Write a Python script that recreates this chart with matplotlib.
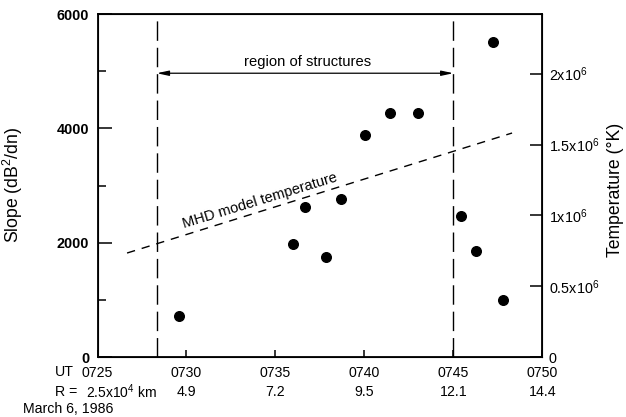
import matplotlib
matplotlib.use('Agg')
import matplotlib.pyplot as plt

plt.rcParams['font.family'] = ['Liberation Sans', 'DejaVu Sans']
plt.rcParams['mathtext.default'] = 'regular'

# Slope measurements, time in minutes after 0700 UT
obs_time = [29.58, 36.0, 36.66, 37.84, 38.69, 40.04, 41.44, 43.0,
            45.43, 46.27, 47.23, 47.79]
obs_slope = [720, 1980, 2627, 1753, 2767, 3885, 4269, 4269,
             2470, 1858, 5511, 1001]

# MHD model temperature, straight line between two ends
mhd_time = [26.66, 48.30]
mhd_temp = [0.735e6, 1.581e6]

# boundaries of the region of structures
region_bounds = [28.33, 45.0]

ut_ticks = [25, 30, 35, 40, 45, 50]
ut_labels = ['0725', '0730', '0735', '0740', '0745', '0750']
range_labels = ['2.5x10$^4$ km', '4.9', '7.2', '9.5', '12.1', '14.4']

slope_ticks = [0, 2000, 4000, 6000]
slope_minor = [1000, 3000, 5000]
temp_ticks = [0, 0.5e6, 1e6, 1.5e6, 2e6]
temp_labels = ['0', '0.5x10$^6$', '1x10$^6$', '1.5x10$^6$', '2x10$^6$']
TEMP_MAX = 2.42e6

fig = plt.figure(figsize=(6.26, 4.17), dpi=100)
ax = fig.add_axes([0.1558, 0.1432, 0.7105, 0.8232])
ax2 = ax.twinx()

ax.set_xlim(25, 50)
ax.set_ylim(0, 6000)
ax2.set_ylim(0, TEMP_MAX)

for sp in ax.spines.values():
    sp.set_linewidth(1.3)

ax.scatter(obs_time, obs_slope, s=48, color='black', zorder=5)
ax2.plot(mhd_time, mhd_temp, color='black', lw=1.0, dashes=(6, 5))

for xb in region_bounds:
    ax.axvline(xb, color='black', lw=1.0, dashes=(14, 5))

ax.annotate('', xy=(region_bounds[0], 4965), xytext=(region_bounds[1], 4965),
            arrowprops=dict(arrowstyle='<|-|>,head_length=0.7,head_width=0.15',
                            color='black', lw=0.9, shrinkA=0, shrinkB=0))
ax.text(36.8, 5161, 'region of structures', ha='center', va='center',
        fontsize=10.6)
ax.text(34.13, 2732, 'MHD model temperature', ha='center', va='center',
        fontsize=10.5, rotation=17)

# left axis
ax.set_yticks(slope_ticks)
ax.set_yticklabels([str(v) for v in slope_ticks], fontweight='bold',
                   fontsize=10.4)
ax.set_yticks(slope_minor, minor=True)
ax.tick_params(axis='y', which='major', direction='in', length=10, width=1.1,
               pad=6)
ax.tick_params(axis='y', which='minor', direction='in', length=5.5, width=1.1)
ax.set_ylabel('Slope (dB$^2$/dn)', fontsize=12.7)
ax.yaxis.set_label_coords(-0.163, 0.502)

# bottom axis: UT row as tick labels, range row as text
ax.set_xticks(ut_ticks)
ax.set_xticklabels(ut_labels, fontsize=10.2)
ax.tick_params(axis='x', direction='in', length=5, width=1.1, pad=6)
trans = ax.get_xaxis_transform()
for xv, lab in zip(ut_ticks[1:], range_labels[1:]):
    ax.text(xv, -0.1, lab, transform=trans, ha='center', va='center',
            fontsize=10.2)
ax.text(26.35, -0.1, range_labels[0], transform=trans, ha='center',
        va='center', fontsize=10)
fig.text(55 / 626, 1 - 372.5 / 417, 'UT', ha='left', va='center',
         fontsize=10.2)
fig.text(55 / 626, 1 - 391.5 / 417, 'R =', ha='left', va='center',
         fontsize=10.2)
fig.text(23 / 626, 1 - 409 / 417, 'March 6, 1986', ha='left', va='center',
         fontsize=10.2)

# right axis
ax2.set_yticks(temp_ticks)
ax2.set_yticklabels(temp_labels, fontsize=10.4)
ax2.tick_params(axis='y', direction='in', length=9, width=1.1, pad=4.5)
ax2.set_ylabel('Temperature (°K)', fontsize=12.7, rotation=90)
ax2.yaxis.set_label_coords(1.146, 0.487)

fig.savefig('out.png', dpi=100)
